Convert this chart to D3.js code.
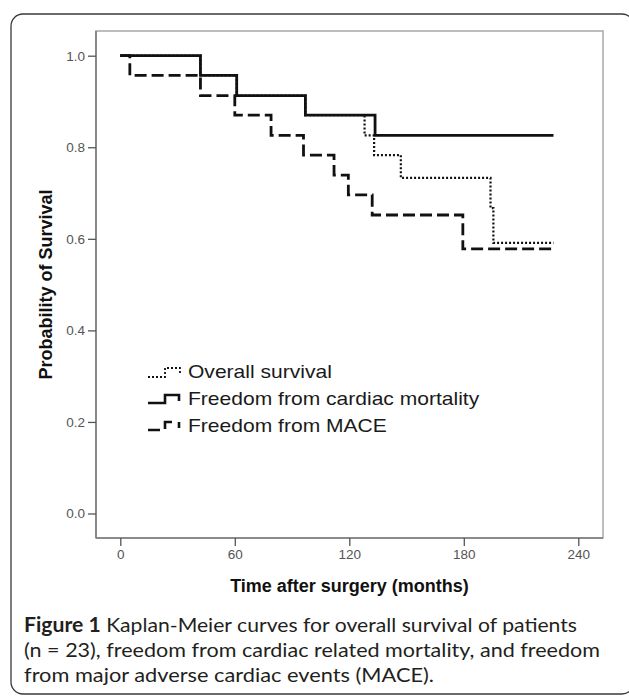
<!DOCTYPE html>
<html>
<head>
<meta charset="utf-8">
<script src="https://cdn.jsdelivr.net/npm/d3@7"></script>
<style>
  html, body { margin: 0; padding: 0; background: #fff; }
  svg { display: block; }
</style>
</head>
<body>
<div id="chart"></div>
<script>
// ---- Data ----
const xTicks = [0, 60, 120, 180, 240];
const yTicks = [0.0, 0.2, 0.4, 0.6, 0.8, 1.0];
const endTime = 227;

const overallTimes  = [0, 42, 61, 97, 128, 133, 147, 194, 195.5];
const overallValues = [1.0, 0.957, 0.913, 0.870, 0.826, 0.783, 0.733, 0.667, 0.591];

const cardiacTimes  = [0, 42, 61, 97, 133.5];
const cardiacValues = [1.0, 0.957, 0.913, 0.870, 0.826];

const maceTimes  = [0, 5, 42, 60, 79, 96, 112, 119.5, 132, 179.5];
const maceValues = [1.0, 0.957, 0.913, 0.870, 0.826, 0.783, 0.739, 0.696, 0.652, 0.578];

const legendLabels = ["Overall survival", "Freedom from cardiac mortality", "Freedom from MACE"];
const xTitle = "Time after surgery (months)";
const yTitle = "Probability of Survival";
const captionBold = "Figure 1";
const captionLines = [
  " Kaplan-Meier curves for overall survival of patients",
  "(n = 23), freedom from cardiac related mortality, and freedom",
  "from major adverse cardiac events (MACE)."
];

// ---- Layout ----
const W = 629, H = 696;
const plot = { left: 96, top: 31, right: 603, bottom: 538 };
const sans = "Liberation Sans, Arial, sans-serif";

const svg = d3.select("#chart").append("svg")
  .attr("width", W).attr("height", H);

// outer rounded frame
svg.append("rect")
  .attr("x", 11).attr("y", 14)
  .attr("width", 623).attr("height", 680)
  .attr("rx", 12).attr("ry", 12)
  .attr("fill", "none").attr("stroke", "#3a3a3a").attr("stroke-width", 1.3);

const x = d3.scaleLinear().domain([0, 240]).range([120.3, 578.3]);
const y = d3.scaleLinear().domain([0, 1]).range([513.5, 55.7]);

// plot box (top/right lighter)
svg.append("rect")
  .attr("x", plot.left).attr("y", plot.top)
  .attr("width", plot.right - plot.left).attr("height", plot.bottom - plot.top)
  .attr("fill", "none").attr("stroke", "#a8a8a8").attr("stroke-width", 1.5);

// axes
const gx = svg.append("g").attr("transform", `translate(0,${plot.bottom})`)
  .call(d3.axisBottom(x).tickValues(xTicks).tickSize(8).tickPadding(3).tickSizeOuter(0));
gx.select(".domain").attr("d", `M${plot.left},0H${plot.right}`);

const gy = svg.append("g").attr("transform", `translate(${plot.left},0)`)
  .call(d3.axisLeft(y).tickValues(yTicks).tickFormat(d3.format(".1f")).tickSize(8).tickPadding(3).tickSizeOuter(0));
gy.select(".domain").attr("d", `M0,${plot.top}V${plot.bottom}`);

[gx, gy].forEach(g => {
  g.select(".domain").attr("stroke", "#7a7a7a").attr("stroke-width", 1.6);
  g.selectAll(".tick line").attr("stroke", "#555").attr("stroke-width", 1.3);
  g.selectAll(".tick text").attr("fill", "#555")
    .style("font-family", sans).style("font-size", "13.5px");
});

// axis titles
svg.append("text")
  .attr("x", (plot.left + plot.right) / 2).attr("y", 592)
  .attr("text-anchor", "middle")
  .style("font-family", sans).style("font-weight", "bold").style("font-size", "18px")
  .attr("fill", "#111").text(xTitle);

svg.append("text")
  .attr("transform", `translate(52,${(plot.top + plot.bottom) / 2}) rotate(-90)`)
  .attr("text-anchor", "middle")
  .style("font-family", sans).style("font-weight", "bold").style("font-size", "18px")
  .attr("fill", "#111").text(yTitle);

// curves
function series(times, values) {
  const pts = times.map((t, i) => [t, values[i]]);
  pts.push([endTime, values[values.length - 1]]);
  return pts;
}
const line = d3.line().x(d => x(d[0])).y(d => y(d[1])).curve(d3.curveStepAfter);

const styles = [
  { data: series(overallTimes, overallValues), dash: "2,2", width: 2.2 },
  { data: series(maceTimes, maceValues), dash: "12,5", width: 2.8 },
  { data: series(cardiacTimes, cardiacValues), dash: null, width: 2.8 }
];
styles.forEach(s => {
  svg.append("path").attr("d", line(s.data))
    .attr("fill", "none").attr("stroke", "#111")
    .attr("stroke-width", s.width)
    .attr("stroke-dasharray", s.dash);
});

// legend
const legendBase = [378, 405, 432];
legendLabels.forEach((lab, i) => {
  const b = legendBase[i];
  if (i === 0) {
    svg.append("path")
      .attr("d", `M148,${b - 1}H165V${b - 10}H180V${b - 3}`)
      .attr("fill", "none").attr("stroke", "#111")
      .attr("stroke-width", 1.8).attr("stroke-dasharray", "2,2");
  } else if (i === 1) {
    svg.append("path")
      .attr("d", `M148,${b - 2}H165V${b - 10}H179V${b - 4}`)
      .attr("fill", "none").attr("stroke", "#111").attr("stroke-width", 2.6);
  } else {
    svg.append("path")
      .attr("d", `M148,${b - 2}H160M165,${b - 3}V${b - 10}H172M179,${b - 10}V${b - 4}`)
      .attr("fill", "none").attr("stroke", "#111").attr("stroke-width", 2.6);
  }
  svg.append("text")
    .attr("transform", `translate(188,${b}) scale(1.17,1)`)
    .style("font-family", sans).style("font-size", "18px")
    .attr("fill", "#1a1a1a").text(lab);
});

// caption
const cap = svg.append("g")
  .style("font-family", "Lato, Open Sans, sans-serif").style("font-size", "20px")
  .attr("fill", "#231f20");
const baselines = [632, 657, 682];
const capWidths = [553, 576, 410];
const t0 = cap.append("text").attr("x", 24).attr("y", baselines[0])
  .attr("textLength", capWidths[0]).attr("lengthAdjust", "spacingAndGlyphs");
t0.append("tspan").style("font-weight", "bold").text(captionBold);
t0.append("tspan").text(captionLines[0]);
cap.append("text").attr("x", 24).attr("y", baselines[1])
  .attr("textLength", capWidths[1]).attr("lengthAdjust", "spacingAndGlyphs").text(captionLines[1]);
cap.append("text").attr("x", 24).attr("y", baselines[2])
  .attr("textLength", capWidths[2]).attr("lengthAdjust", "spacingAndGlyphs").text(captionLines[2]);
</script>
</body>
</html>
